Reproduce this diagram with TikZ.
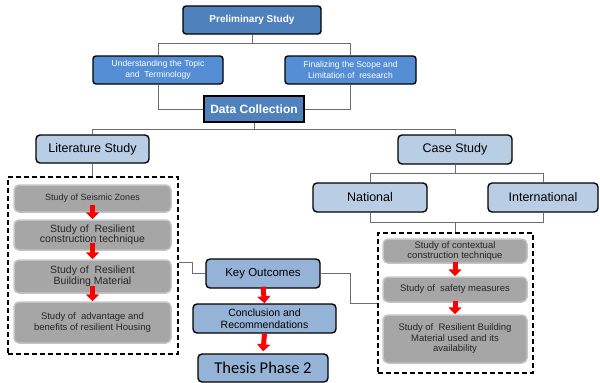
\documentclass[tikz,border=0pt]{standalone}
\usepackage{fontspec}
\setmainfont{Liberation Sans}
\newfontfamily\thesisfont{Carlito}
\usetikzlibrary{arrows.meta, positioning, fit, calc}

\definecolor{darkblue}{HTML}{4F81BD}
\definecolor{midblue}{HTML}{558ED5}
\definecolor{paleblue}{HTML}{B9CDE5}
\definecolor{outblue}{HTML}{95B3D7}
\definecolor{stepgrey}{HTML}{A6A6A6}
\definecolor{stepedge}{HTML}{C4C4C4}
\definecolor{connline}{HTML}{6E6E6E}

\begin{document}
\begin{tikzpicture}[x=1pt, y=-1pt,
    every node/.style={align=center, inner sep=1pt},
    topbox/.style={rectangle, draw, line width=1.4pt, rounded corners=3pt, fill=darkblue,
                   text=white, font=\bfseries\fontsize{10}{12}\selectfont},
    databox/.style={rectangle, draw, line width=1.8pt, fill=darkblue,
                    text=white, font=\bfseries\fontsize{12}{14}\selectfont},
    midbox/.style={rectangle, draw, line width=1.4pt, rounded corners=3pt, fill=midblue,
                   text=white, font=\fontsize{8.6}{11}\selectfont},
    lightbox/.style={rectangle, draw, line width=1.4pt, rounded corners=4pt, fill=paleblue,
                     minimum width=114, minimum height=29, font=\fontsize{12.5}{14}\selectfont},
    outbox/.style={rectangle, draw, line width=1.4pt, rounded corners=4pt, fill=outblue,
                   minimum width=114, minimum height=29, font=\fontsize{11.5}{12}\selectfont},
    stepbox/.style={rectangle, draw=stepedge, line width=1.5pt, rounded corners=5pt,
                    fill=stepgrey, text=black!85, font=\fontsize{9.5}{10.5}\selectfont},
    dashbox/.style={rectangle, draw, line width=1.2pt, dash pattern=on 5pt off 3pt},
    conn/.style={draw=connline, line width=1pt},
    redarr/.style={draw=red, line width=5pt, -{Triangle[width=13pt, length=7pt]}}
]
\useasboundingbox (0,0) rectangle (600,383);

% top part
\node[topbox, minimum width=138, minimum height=28] (prelim) at (252,20) {Preliminary Study};
\node[midbox, minimum width=130, minimum height=28] (topic) at (158,70)
    {Understanding the Topic\\and\ \ Terminology};
\node[midbox, minimum width=131, minimum height=28] (scope) at (350.5,70)
    {Finalizing the Scope and\\Limitation of\ \ research};
\node[databox, minimum width=100, minimum height=26] (data) at (254,109) {Data Collection};

% literature side
\node[lightbox, minimum width=113, minimum height=28] (lit) at (92.5,149) {Literature Study};
\node[dashbox, minimum width=170, minimum height=177] (litbox) at (93,265.5) {};
\node[stepbox, minimum width=157, minimum height=27] (seismic) at (92.5,198.5)
    {\fontsize{9}{10}\selectfont Study of Seismic Zones};
\node[stepbox, minimum width=157, minimum height=30] (technique) at (92.5,235)
    {\fontsize{10.5}{11.5}\selectfont Study of\ \ Resilient\\\fontsize{10.5}{11.5}\selectfont construction technique};
\node[stepbox, minimum width=157, minimum height=33] (material) at (92.5,276.5)
    {\fontsize{10.5}{11.5}\selectfont Study of\ \ Resilient\\\fontsize{10.5}{11.5}\selectfont Building Material};
\node[stepbox, minimum width=157, minimum height=41] (advantage) at (92.5,322.5)
    {Study of\ \ advantage and\\benefits of resilient Housing};

% case study side
\node[lightbox, minimum width=114] (case) at (455,149.5) {Case Study};
\node[lightbox, minimum width=114] (national) at (370,197.5) {National};
\node[lightbox, minimum width=110] (intl) at (543,197.5) {International};
\node[dashbox, minimum width=155, minimum height=140] (casebox) at (455.5,303) {};
\node[stepbox, minimum width=144, minimum height=24] (context) at (455,251)
    {Study of contextual\\construction technique};
\node[stepbox, minimum width=144, minimum height=25] (safety) at (455,289.5)
    {Study of\ \ safety measures};
\node[stepbox, minimum width=144, minimum height=48] (availab) at (455,339)
    {Study of\ \ Resilient Building\\Material used and its\\availability};

% outcomes
\node[outbox, minimum width=114] (key) at (263,273.5) {Key Outcomes};
\node[outbox, minimum width=143, font=\fontsize{10.5}{12}\selectfont] (concl) at (264.5,318.5)
    {Conclusion and\\Recommendations};
\node[outbox, minimum width=130, minimum height=28, font=\thesisfont\fontsize{16.5}{18}\selectfont]
    (thesis) at (263,368) {Thesis Phase 2};

% connectors
\draw[conn] (prelim.south) -- ++(0,9) -| (topic.north);
\draw[conn] (prelim.south) -- ++(0,9) -| (scope.north);
\draw[conn] (topic.south) |- (data.west);
\draw[conn] (scope.south) |- (data.east);
\draw[conn] (data.south) -- ++(0,7) -| (lit.north);
\draw[conn] (data.south) -- ++(0,7) -| (case.north);
\draw[conn] (lit.south) -- (lit.south |- litbox.north);
\draw[conn] (case.south) -- ++(0,9) -| (national.north);
\draw[conn] (case.south) -- ++(0,9) -| (intl.north);
\draw[conn] (national.south) -- ++(0,10) coordinate (nj) -| (intl.south);
\draw[conn] (nj -| casebox.north) -- (casebox.north);
\draw[conn] ([yshift=3.5pt]litbox.east) -- ++(14,0) |- (key.west);
\draw[conn] (key.east) -- ++(30,0) |- (casebox.west);

% red arrows
\draw[redarr] ([yshift=8pt]seismic.south) -- (technique.north);
\draw[redarr] ([yshift=8pt]technique.south) -- (material.north);
\draw[redarr] ([yshift=8pt]material.south) -- (advantage.north);
\draw[redarr] ([yshift=2pt]context.south) -- (safety.north);
\draw[redarr] ([yshift=2pt]safety.south) -- (availab.north);
\draw[redarr] ([yshift=2pt]key.south) -- (concl.north);
\draw[redarr] (concl.south) -- ([yshift=2pt]thesis.north);
\end{tikzpicture}
\end{document}
